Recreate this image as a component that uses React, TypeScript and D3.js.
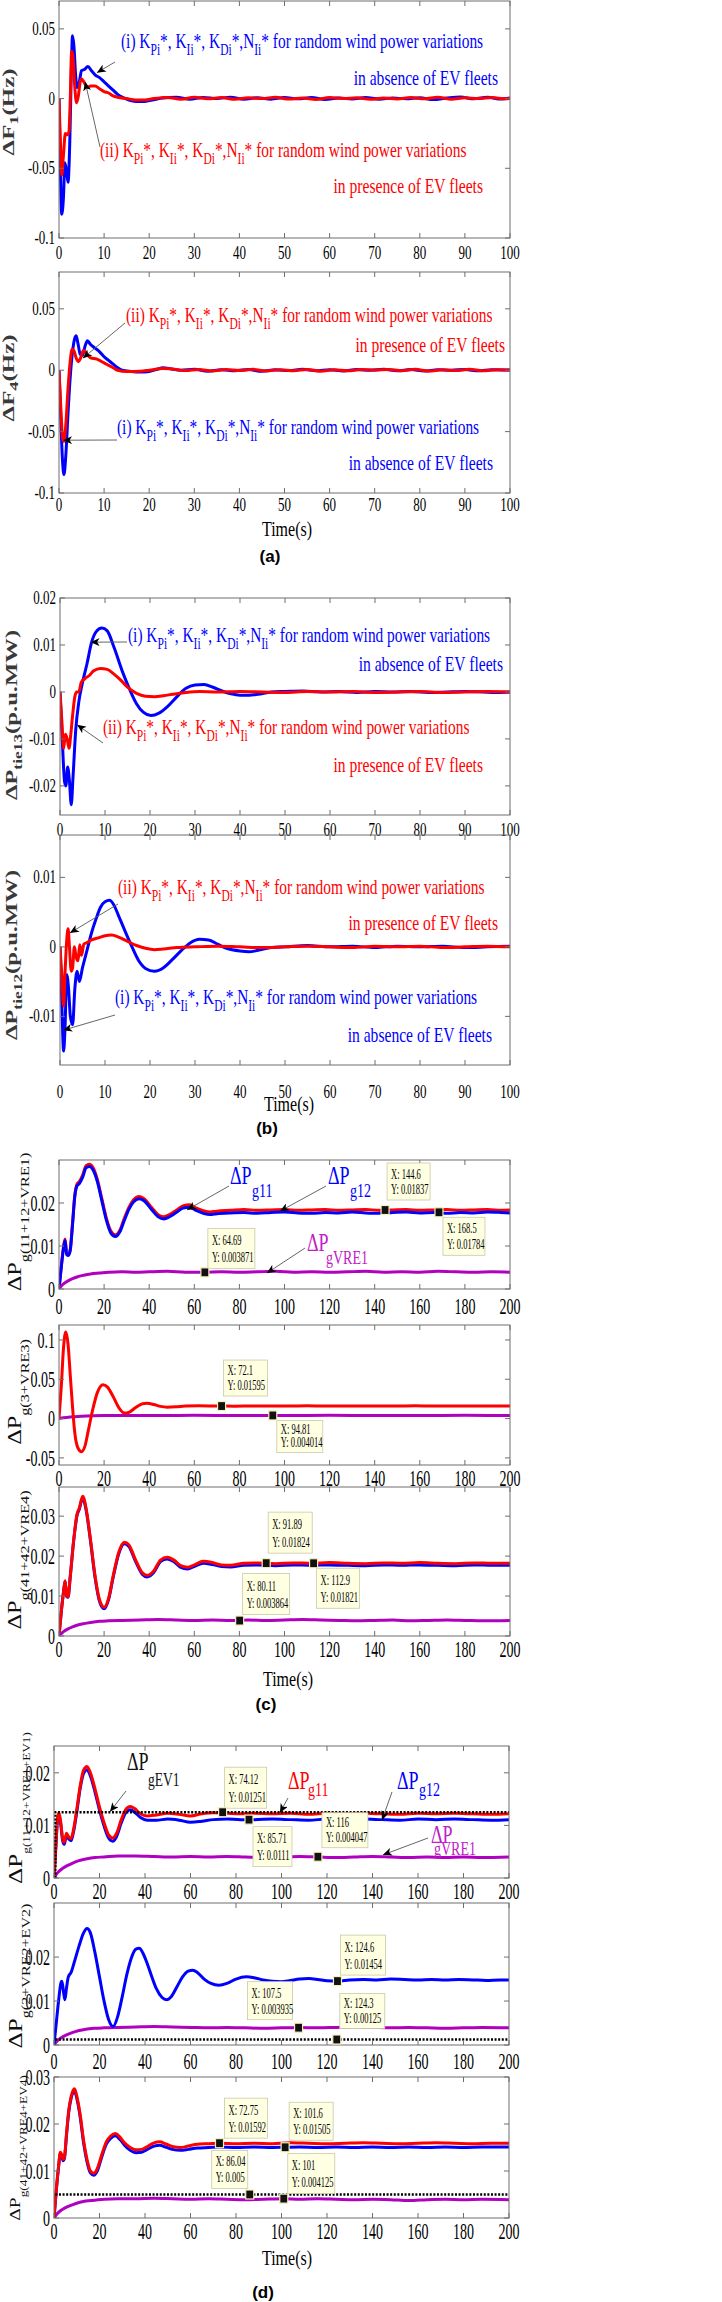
import React from 'react';
import * as d3 from 'd3';

type Pt = [number, number];

// ---------- tick values ----------
const ticksT100 = [0, 10, 20, 30, 40, 50, 60, 70, 80, 90, 100];
const ticksT200 = [0, 20, 40, 60, 80, 100, 120, 140, 160, 180, 200];
const ticksA = [-0.1, -0.05, 0, 0.05];
const ticksB1 = [-0.02, -0.01, 0, 0.01, 0.02];
const ticksB2 = [-0.01, 0, 0.01];
const ticksC1 = [0, 0.01, 0.02];
const ticksC2 = [-0.05, 0, 0.05, 0.1];
const ticksC3 = [0, 0.01, 0.02, 0.03];
const ticksD12 = [0, 0.01, 0.02];
const ticksD3 = [0, 0.01, 0.02, 0.03];

// ---------- (a) frequency deviations ----------
const a1Blue: Pt[] = [
  [0, 0], [0.3, -0.05], [0.6, -0.083], [1.0, -0.07], [1.3, -0.046], [1.7, -0.053], [2.0, -0.06], [2.4, -0.03],
  [2.7, 0.015], [3.0, 0.045], [3.3, 0.038], [3.7, 0.016], [4.0, 0.008], [4.5, 0.012], [5.0, 0.02], [5.7, 0.021],
  [6.4, 0.023], [7.2, 0.02], [8, 0.017], [9, 0.015], [10, 0.012], [11, 0.009], [12, 0.006], [13, 0.003], [14, 0.001],
  [15.5, -0.001], [17, -0.002], [19, -0.002], [21, -0.0008], [23, 0.0005], [26, 0.001], [29, -0.0005], [32, 0.0008],
  [35, 0], [38, 0.001], [41, -0.0005], [44, 0.0006], [47, -0.0004], [50, 0.0007], [53, -0.0002], [56, 0.0008],
  [59, -0.0006], [62, 0.0004], [65, -0.0003], [68, 0.0008], [71, -0.0004], [74, 0.0005], [77, -0.0002], [80, 0.0006],
  [83, -0.0007], [86, 0.0004], [89, 0.0011], [92, -0.0002], [95, 0.0009], [98, -0.0003], [100, 0.0004],
];
const a1Red: Pt[] = [
  [0, 0], [0.3, -0.03], [0.6, -0.055], [1.0, -0.04], [1.4, -0.025], [1.8, -0.026], [2.2, -0.024], [2.5, 0.0],
  [2.8, 0.034], [3.1, 0.03], [3.5, 0.008], [3.9, -0.003], [4.3, 0.002], [4.7, 0.012], [5.0, 0.014], [5.5, 0.012],
  [6.3, 0.008], [7, 0.009], [8, 0.009], [9, 0.007], [10, 0.005], [11, 0.004], [12, 0.002], [13, 0.001], [15, 0],
  [17, -0.001], [19, -0.001], [21, 0], [24, 0.0008], [27, -0.0004], [30, 0.0009], [33, -0.0002], [36, 0.0007],
  [39, -0.0005], [42, 0.0006], [45, 0], [48, 0.0009], [51, -0.0003], [54, 0.0005], [57, -0.0006], [60, 0.0007],
  [63, 0], [66, 0.0006], [69, -0.0005], [72, 0.0004], [75, -0.0003], [78, 0.0008], [81, -0.0002], [84, 0.001],
  [87, -0.0004], [90, 0.0006], [93, 0], [96, 0.0008], [99, -0.0002], [100, 0.0003],
];
const a2Blue: Pt[] = [
  [0, 0], [0.4, -0.04], [0.8, -0.075], [1.1, -0.085], [1.5, -0.07], [2.0, -0.035], [2.5, -0.005], [3.0, 0.015],
  [3.5, 0.026], [3.8, 0.028], [4.2, 0.022], [4.7, 0.013], [5.2, 0.012], [5.8, 0.02], [6.3, 0.024], [7, 0.021],
  [8, 0.018], [9, 0.015], [10, 0.011], [11, 0.008], [12, 0.005], [13, 0.002], [14, 0], [16, -0.001], [18, -0.0015],
  [20, -0.001], [22, 0.001], [23, 0.002], [25, 0.001], [27, 0], [30, 0.0008], [33, -0.0008], [36, 0.0004],
  [39, -0.0004], [42, 0.0006], [45, -0.0009], [48, 0.0003], [51, -0.0002], [54, 0.0007], [57, -0.0005],
  [60, 0.0004], [63, -0.0006], [66, 0.0005], [69, 0], [72, 0.0007], [75, -0.0004], [78, 0.0005], [81, -0.0007],
  [84, 0.0004], [87, 0], [90, 0.0006], [93, -0.0005], [96, 0.0004], [100, 0.0002],
];
const a2Red: Pt[] = [
  [0, 0], [0.4, -0.03], [0.8, -0.055], [1.1, -0.058], [1.5, -0.045], [2.0, -0.015], [2.5, 0.008], [2.9, 0.017],
  [3.3, 0.016], [3.8, 0.01], [4.3, 0.007], [4.8, 0.01], [5.4, 0.016], [6, 0.014], [7, 0.01], [8.4, 0.009],
  [10, 0.006], [11, 0.004], [12, 0.002], [13, 0], [15, -0.001], [18, -0.0008], [20, 0], [23, 0.0015], [25, 0.001],
  [28, -0.0003], [31, 0.0006], [34, -0.0007], [37, 0.0005], [40, -0.0003], [43, 0.0007], [46, -0.0006],
  [49, 0.0004], [52, -0.0004], [55, 0.0006], [58, -0.0008], [61, 0.0003], [64, -0.0005], [67, 0.0006], [70, 0],
  [73, 0.0006], [76, -0.0004], [79, 0.0007], [82, -0.0006], [85, 0.0003], [88, -0.0002], [91, 0.0007],
  [94, -0.0005], [97, 0.0004], [100, 0.0001],
];

// ---------- (b) tie-line power deviations ----------
const b1Blue: Pt[] = [
  [0, 0], [0.5, -0.01], [1.0, -0.019], [1.3, -0.02], [1.7, -0.016], [2.1, -0.019], [2.5, -0.024], [2.9, -0.018],
  [3.5, -0.008], [4.2, -0.002], [5, 0.002], [6, 0.006], [7, 0.0105], [8, 0.0128], [9.3, 0.0136], [10.5, 0.013],
  [12, 0.0095], [14, 0.004], [15.5, 0.0005], [17, -0.0025], [18.5, -0.0043], [20.2, -0.005], [22, -0.0045],
  [24, -0.003], [26, -0.001], [28, 0.0008], [30, 0.0015], [32, 0.0016], [34, 0.001], [36, 0.0002], [38, -0.0004],
  [40, -0.0007], [42, -0.0007], [44, -0.0005], [47, 0], [50, 0.0001], [54, 0.0002], [58, 0], [62, 0.0001],
  [66, -0.0001], [70, 0.0001], [74, 0], [78, 0.0001], [82, -0.0001], [86, 0], [90, 0.0001], [94, 0],
  [97, -0.0001], [100, 0],
];
const b1Red: Pt[] = [
  [0, 0], [0.4, -0.006], [0.8, -0.012], [1.2, -0.009], [1.6, -0.01], [2.0, -0.012], [2.4, -0.009], [2.8, -0.005],
  [3.3, -0.001], [3.7, 0], [4.2, 0], [4.7, 0.002], [5.5, 0.0028], [6.5, 0.0035], [7.5, 0.0045], [9, 0.005],
  [10.5, 0.0048], [12, 0.0038], [13.5, 0.0025], [15, 0.001], [17, -0.0003], [19, -0.0009], [21, -0.001],
  [23, -0.0008], [25, -0.0005], [28, -0.0001], [31, 0.0001], [35, 0], [40, 0.0001], [45, 0], [50, -0.0001],
  [55, 0.0001], [60, 0], [65, 0.0001], [70, -0.0001], [75, 0], [80, 0.0001], [85, -0.0001], [90, 0],
  [95, 0.0001], [100, 0],
];
const b2Blue: Pt[] = [
  [0, 0], [0.4, -0.008], [0.8, -0.015], [1.1, -0.012], [1.5, -0.004], [1.9, -0.006], [2.3, -0.01], [2.8, -0.0112],
  [3.3, -0.006], [3.8, -0.0035], [4.3, -0.005], [5, -0.003], [6, -0.0005], [7, 0.002], [8, 0.004], [9, 0.0057],
  [10, 0.0065], [11, 0.0067], [12, 0.006], [13, 0.0045], [14.5, 0.0022], [16, 0], [17.5, -0.002], [19, -0.0031],
  [21, -0.0035], [23, -0.003], [25, -0.0018], [27, -0.0005], [29, 0.0006], [31, 0.0011], [33, 0.001],
  [35, 0.0004], [37, -0.0002], [40, -0.0006], [42, -0.0007], [44, -0.0005], [47, -0.0001], [50, 0],
  [55, 0.0002], [60, 0], [65, 0.0001], [70, -0.0001], [75, 0.0001], [80, 0], [85, 0.0001], [90, -0.0001],
  [95, 0], [100, 0.0001],
];
const b2Red: Pt[] = [
  [0, 0], [0.4, -0.004], [0.8, -0.0085], [1.1, -0.004], [1.5, 0.001], [1.8, 0.0026], [2.1, 0.0], [2.5, -0.0035],
  [2.8, -0.003], [3.2, 0], [3.6, -0.0015], [4.0, -0.002], [4.4, 0.0003], [4.8, -0.0012], [5.3, 0.0004],
  [6, 0.0006], [7, 0.001], [8.5, 0.0013], [10, 0.0016], [11.5, 0.0017], [13, 0.0014], [15, 0.0008], [17, 0.0002],
  [19, -0.0002], [21, -0.0004], [23, -0.0003], [26, -0.0001], [30, 0], [35, 0.0001], [40, 0], [45, -0.0001],
  [50, 0], [55, 0.0001], [60, 0], [65, -0.0001], [70, 0.0001], [75, 0], [80, 0.0001], [85, -0.0001], [90, 0],
  [95, 0.0001], [100, 0],
];

// ---------- (c) generation deviations without EV ----------
const c1Blue: Pt[] = [
  [0, 0], [1, 0.005], [2, 0.0095], [2.7, 0.0113], [3.4, 0.008], [4.2, 0.0078], [5, 0.009], [6, 0.015], [7, 0.0215],
  [8, 0.024], [9, 0.0245], [10.5, 0.026], [12, 0.0282], [13.5, 0.0285], [15, 0.0278], [17, 0.025], [19, 0.0205],
  [21, 0.016], [23, 0.013], [25, 0.0122], [27, 0.0133], [29, 0.016], [31, 0.0185], [33, 0.0202], [35.5, 0.021],
  [38, 0.0204], [41, 0.0185], [44, 0.0168], [46.5, 0.0163], [49, 0.0168], [52, 0.0178], [55, 0.0188], [58, 0.019],
  [61, 0.0182], [64, 0.0176], [67, 0.0173], [70, 0.0175], [76, 0.0177], [82, 0.0178], [88, 0.0176], [94, 0.0178],
  [100, 0.0179], [106, 0.0177], [112, 0.0176], [118, 0.0178], [124, 0.0177], [130, 0.0179], [136, 0.0177],
  [142, 0.0176], [148, 0.0178], [154, 0.0179], [160, 0.0177], [166, 0.0178], [172, 0.0176], [178, 0.0178],
  [184, 0.0177], [190, 0.0179], [196, 0.0178], [200, 0.0177],
];
const c1Red: Pt[] = [
  [0, 0], [1, 0.0052], [2, 0.0098], [2.7, 0.0116], [3.4, 0.0083], [4.2, 0.008], [5, 0.0093], [6, 0.0153],
  [7, 0.0218], [8, 0.0244], [9, 0.025], [10.5, 0.0265], [12, 0.0287], [13.5, 0.029], [15, 0.0283], [17, 0.0255],
  [19, 0.021], [21, 0.0165], [23, 0.0135], [25, 0.0126], [27, 0.0137], [29, 0.0165], [31, 0.019], [33, 0.0207],
  [35.5, 0.0215], [38, 0.0209], [41, 0.019], [44, 0.0173], [46.5, 0.0168], [49, 0.0173], [52, 0.0183],
  [55, 0.0193], [58, 0.0196], [61, 0.0188], [64, 0.0182], [67, 0.0179], [70, 0.0181], [76, 0.0183], [82, 0.0185],
  [88, 0.0183], [94, 0.0184], [100, 0.0185], [106, 0.0183], [112, 0.0184], [118, 0.0185], [124, 0.0183],
  [130, 0.0184], [136, 0.0185], [142, 0.0183], [148, 0.0184], [154, 0.0185], [160, 0.0183], [166, 0.0184],
  [172, 0.0185], [178, 0.0183], [184, 0.0184], [190, 0.0185], [196, 0.0183], [200, 0.0184],
];
const c1Purple: Pt[] = [
  [0, 0], [1, 0.0007], [2, 0.0012], [4, 0.0019], [6, 0.0024], [8, 0.0028], [11, 0.0032], [14, 0.0035],
  [18, 0.0037], [22, 0.0039], [28, 0.004], [34, 0.0039], [40, 0.004], [48, 0.0041], [56, 0.0039], [64, 0.0039],
  [72, 0.004], [80, 0.0039], [88, 0.004], [96, 0.0041], [104, 0.0039], [112, 0.004], [120, 0.0039],
  [128, 0.004], [136, 0.0041], [144, 0.0039], [152, 0.004], [160, 0.0039], [168, 0.0041], [176, 0.004],
  [184, 0.0039], [192, 0.004], [200, 0.0039],
];
const c2Red: Pt[] = [
  [0, 0], [1, 0.04], [2, 0.09], [3, 0.11], [4, 0.095], [5, 0.055], [6, 0.015], [7, -0.018], [8.5, -0.038],
  [10, -0.042], [11.5, -0.035], [13, -0.015], [15, 0.012], [17, 0.033], [19.5, 0.043], [21.5, 0.04], [24, 0.028],
  [26.5, 0.014], [29, 0.007], [31, 0.008], [34, 0.014], [37, 0.019], [39, 0.0195], [42, 0.018], [45, 0.0155],
  [48, 0.0145], [52, 0.015], [56, 0.016], [62, 0.0162], [70, 0.016], [78, 0.0158], [86, 0.0161], [94, 0.0159],
  [102, 0.016], [110, 0.0162], [118, 0.0159], [126, 0.016], [134, 0.0161], [142, 0.0159], [150, 0.016],
  [158, 0.0162], [166, 0.0159], [174, 0.016], [182, 0.0161], [190, 0.0159], [200, 0.016],
];
const c2Purple: Pt[] = [
  [0, 0], [2, 0.001], [5, 0.002], [10, 0.003], [15, 0.0036], [20, 0.0039], [30, 0.004], [45, 0.004],
  [60, 0.0041], [80, 0.004], [100, 0.004], [120, 0.0041], [140, 0.004], [160, 0.004], [180, 0.0041], [200, 0.004],
];
const c3Red: Pt[] = [
  [0, 0], [1, 0.006], [2, 0.011], [2.7, 0.0138], [3.4, 0.01], [4, 0.0098], [5, 0.015], [6.5, 0.024], [8, 0.0305],
  [9, 0.032], [10.5, 0.035], [12, 0.032], [14, 0.024], [16, 0.015], [18, 0.009], [20, 0.0072], [22, 0.0095],
  [24, 0.015], [26.5, 0.021], [29, 0.0235], [31, 0.0228], [34, 0.019], [37, 0.0158], [39, 0.0152], [42, 0.0163],
  [45, 0.019], [48, 0.0197], [51, 0.019], [54, 0.0176], [57, 0.0172], [60, 0.0178], [64, 0.0187], [68, 0.0184],
  [72, 0.0178], [76, 0.0177], [82, 0.0182], [88, 0.0183], [96, 0.0181], [104, 0.0183], [112, 0.0182],
  [120, 0.0184], [128, 0.0182], [136, 0.0181], [144, 0.0183], [152, 0.0182], [160, 0.0184], [168, 0.0182],
  [176, 0.0181], [184, 0.0183], [192, 0.0182], [200, 0.0182],
];
const c3Blue: Pt[] = [
  [0, 0], [1, 0.006], [2, 0.011], [2.7, 0.0137], [3.4, 0.0099], [4, 0.0097], [5, 0.0149], [6.5, 0.0238],
  [8, 0.0302], [9, 0.0317], [10.5, 0.0346], [12, 0.0316], [14, 0.0236], [16, 0.0146], [18, 0.0086], [20, 0.0068],
  [22, 0.0091], [24, 0.0146], [26.5, 0.0206], [29, 0.0231], [31, 0.0224], [34, 0.0186], [37, 0.0154],
  [39, 0.0148], [42, 0.0159], [45, 0.0186], [48, 0.0193], [51, 0.0186], [54, 0.0172], [57, 0.0168], [60, 0.0174],
  [64, 0.0182], [68, 0.0179], [72, 0.0174], [76, 0.0173], [82, 0.0177], [88, 0.0178], [96, 0.0176],
  [104, 0.0178], [112, 0.0177], [120, 0.0178], [128, 0.0177], [136, 0.0176], [144, 0.0178], [152, 0.0177],
  [160, 0.0178], [168, 0.0177], [176, 0.0176], [184, 0.0178], [192, 0.0177], [200, 0.0177],
];
const c3Purple: Pt[] = [
  [0, 0], [1, 0.0006], [2, 0.0011], [4, 0.0018], [6, 0.0023], [8, 0.0027], [11, 0.0031], [14, 0.0034],
  [18, 0.0037], [22, 0.0038], [28, 0.0039], [36, 0.004], [44, 0.0041], [52, 0.004], [60, 0.0039], [68, 0.004],
  [76, 0.0039], [84, 0.004], [92, 0.0039], [100, 0.004], [108, 0.0041], [116, 0.004], [124, 0.0039],
  [132, 0.0038], [140, 0.0039], [148, 0.004], [156, 0.0038], [164, 0.0039], [172, 0.004], [180, 0.0039],
  [188, 0.0038], [200, 0.0039],
];

// ---------- (d) generation deviations with EV fleets ----------
const d1Red: Pt[] = [
  [0, 0], [0.8, 0.006], [1.6, 0.0115], [2.2, 0.0124], [3, 0.0105], [3.8, 0.0075], [4.5, 0.0068], [5.5, 0.0085],
  [6.5, 0.0078], [7.5, 0.0075], [8.5, 0.009], [10, 0.013], [11.5, 0.0175], [13, 0.0205], [14.5, 0.0212],
  [16, 0.02], [18, 0.017], [20, 0.0135], [22, 0.0105], [24, 0.0082], [25.8, 0.0076], [27.5, 0.0085],
  [29.5, 0.011], [31.5, 0.013], [33.5, 0.0136], [35.5, 0.0132], [38, 0.0122], [41, 0.0118], [45, 0.012],
  [50, 0.0123], [55, 0.0121], [60, 0.0118], [65, 0.0122], [70, 0.0124], [76, 0.0123], [82, 0.0122],
  [88, 0.0123], [96, 0.0122], [104, 0.0123], [112, 0.0121], [120, 0.0123], [128, 0.0122], [136, 0.0123],
  [144, 0.0122], [152, 0.0121], [160, 0.0123], [168, 0.0122], [176, 0.0123], [184, 0.0122], [192, 0.0121],
  [200, 0.0122],
];
const d1Blue: Pt[] = [
  [0, 0], [0.8, 0.0058], [1.6, 0.0112], [2.2, 0.012], [3, 0.0101], [3.8, 0.0071], [4.5, 0.0064], [5.5, 0.0081],
  [6.5, 0.0074], [7.5, 0.0071], [8.5, 0.0086], [10, 0.0125], [11.5, 0.017], [13, 0.0199], [14.5, 0.0206],
  [16, 0.0194], [18, 0.0164], [20, 0.0129], [22, 0.0099], [24, 0.0076], [25.8, 0.007], [27.5, 0.0079],
  [29.5, 0.0104], [31.5, 0.0124], [33.5, 0.013], [35.5, 0.0125], [38, 0.0115], [41, 0.011], [45, 0.011],
  [50, 0.0112], [55, 0.011], [60, 0.0106], [65, 0.0108], [70, 0.0111], [76, 0.0112], [82, 0.0111],
  [88, 0.0111], [96, 0.0112], [104, 0.0111], [112, 0.011], [120, 0.0112], [128, 0.0111], [136, 0.0112],
  [144, 0.0111], [152, 0.011], [160, 0.0112], [168, 0.0111], [176, 0.0112], [184, 0.0111], [192, 0.011],
  [200, 0.0111],
];
const d1Purple: Pt[] = [
  [0, 0], [1, 0.0007], [2, 0.0012], [4, 0.0019], [6, 0.0024], [8, 0.0028], [11, 0.0033], [14, 0.0036],
  [18, 0.0039], [22, 0.004], [28, 0.0042], [36, 0.0042], [44, 0.0041], [52, 0.004], [60, 0.0041], [68, 0.004],
  [76, 0.0041], [84, 0.004], [92, 0.0039], [100, 0.004], [108, 0.0041], [116, 0.004], [124, 0.0039],
  [132, 0.004], [140, 0.0041], [148, 0.004], [156, 0.0039], [164, 0.004], [172, 0.0039], [180, 0.004],
  [188, 0.0039], [200, 0.004],
];
const d1Ev: Pt[] = [[0.6, 0], [0.6, 0.01251], [200, 0.01251]];
const d2Blue: Pt[] = [
  [0, 0], [1, 0.005], [2, 0.01], [3, 0.014], [3.5, 0.0145], [4.2, 0.012], [4.8, 0.0103], [5.5, 0.013],
  [6.3, 0.0155], [7.5, 0.0165], [9, 0.019], [11, 0.0225], [13, 0.0255], [14.5, 0.0265], [16, 0.0255], [18, 0.021],
  [20, 0.0155], [22, 0.01], [24, 0.0058], [26, 0.0042], [28, 0.0065], [30, 0.011], [32, 0.016], [34, 0.0198],
  [36, 0.0218], [37.5, 0.022], [39, 0.021], [41, 0.0185], [43, 0.0155], [45, 0.0128], [47.5, 0.0108],
  [49.5, 0.0103], [51.5, 0.011], [54, 0.0132], [56.5, 0.0155], [59, 0.0168], [61, 0.017], [63, 0.0165],
  [66, 0.015], [69, 0.014], [72.5, 0.0136], [76, 0.014], [80, 0.015], [84.5, 0.0155], [88, 0.0153],
  [92, 0.0148], [96, 0.0145], [100, 0.0144], [104, 0.0147], [108, 0.015], [112, 0.0151], [116, 0.0149],
  [120, 0.0146], [124.6, 0.01454], [130, 0.0148], [136, 0.0149], [142, 0.0148], [148, 0.015], [154, 0.0149],
  [160, 0.0148], [166, 0.0149], [172, 0.0148], [178, 0.0149], [184, 0.0148], [190, 0.0147], [196, 0.0148],
  [200, 0.0148],
];
const d2Purple: Pt[] = [
  [0, 0], [1, 0.0007], [2, 0.0012], [4, 0.0019], [6, 0.0024], [8, 0.0028], [11, 0.0033], [14, 0.0036],
  [18, 0.0038], [22, 0.0039], [28, 0.004], [36, 0.0041], [44, 0.0042], [52, 0.0041], [60, 0.004], [68, 0.0039],
  [76, 0.004], [84, 0.0039], [92, 0.0038], [100, 0.0039], [108, 0.004], [116, 0.0039], [124, 0.004],
  [132, 0.0041], [140, 0.004], [148, 0.0039], [156, 0.004], [164, 0.0039], [172, 0.0038], [180, 0.0039],
  [188, 0.004], [200, 0.0039],
];
const d2Ev: Pt[] = [[0.6, 0.00125], [200, 0.00125]];
const d3Red: Pt[] = [
  [0, 0], [1, 0.006], [2, 0.011], [2.8, 0.014], [3.4, 0.0135], [4, 0.0125], [4.6, 0.013], [5.5, 0.018],
  [6.5, 0.023], [7.5, 0.0258], [9, 0.0275], [10, 0.026], [11.5, 0.022], [13, 0.0165], [14.5, 0.0125], [16, 0.01],
  [17.5, 0.0095], [19, 0.0105], [21, 0.0135], [23, 0.0162], [25, 0.0175], [27, 0.018], [29, 0.0172], [31, 0.016],
  [33.5, 0.015], [36, 0.0145], [38.5, 0.0146], [41, 0.0152], [44, 0.016], [46.5, 0.0162], [49, 0.0158],
  [52, 0.0152], [55.5, 0.015], [59, 0.0153], [63, 0.0157], [68, 0.0158], [72.75, 0.0159], [80, 0.0158],
  [88, 0.0159], [96, 0.0158], [104, 0.016], [112, 0.0159], [120, 0.0158], [128, 0.0159], [136, 0.016],
  [144, 0.0159], [152, 0.0158], [160, 0.0159], [168, 0.016], [176, 0.0159], [184, 0.0158], [192, 0.0159],
  [200, 0.0159],
];
const d3Blue: Pt[] = [
  [0, 0], [1, 0.0058], [2, 0.0108], [2.8, 0.0137], [3.4, 0.0132], [4, 0.0122], [4.6, 0.0127], [5.5, 0.0176],
  [6.5, 0.0226], [7.5, 0.0254], [9, 0.027], [10, 0.0255], [11.5, 0.0215], [13, 0.016], [14.5, 0.012],
  [16, 0.0096], [17.5, 0.0091], [19, 0.01], [21, 0.013], [23, 0.0157], [25, 0.017], [27, 0.0175], [29, 0.0167],
  [31, 0.0155], [33.5, 0.0144], [36, 0.0139], [38.5, 0.014], [41, 0.0146], [44, 0.0153], [46.5, 0.0155],
  [49, 0.0151], [52, 0.0146], [55.5, 0.0144], [59, 0.0146], [63, 0.0149], [68, 0.015], [72.75, 0.0151],
  [80, 0.015], [88, 0.0151], [96, 0.015], [101.6, 0.01505], [108, 0.0151], [116, 0.015], [124, 0.0151],
  [132, 0.015], [140, 0.0151], [148, 0.015], [156, 0.0151], [164, 0.015], [172, 0.0151], [180, 0.015],
  [188, 0.0151], [200, 0.0151],
];
const d3Purple: Pt[] = [
  [0, 0], [1, 0.0007], [2, 0.0012], [4, 0.0019], [6, 0.0024], [8, 0.0028], [11, 0.0033], [14, 0.0036],
  [18, 0.0038], [22, 0.004], [28, 0.0041], [36, 0.0041], [44, 0.0042], [52, 0.0041], [60, 0.004], [68, 0.0041],
  [76, 0.004], [84, 0.0039], [92, 0.004], [101, 0.0041], [108, 0.004], [116, 0.0041], [124, 0.004],
  [132, 0.0039], [140, 0.004], [148, 0.0039], [156, 0.0037], [164, 0.0039], [172, 0.004], [180, 0.0039],
  [188, 0.004], [200, 0.0039],
];
const d3Ev: Pt[] = [[0.6, 0.005], [200, 0.005]];

// data tips [x, y] as shown in the cursors
const c1Tips: Pt[] = [[144.6, 0.01837], [168.5, 0.01784], [64.69, 0.003871]];
const c2Tips: Pt[] = [[72.1, 0.01595], [94.81, 0.004014]];
const c3Tips: Pt[] = [[91.89, 0.01824], [112.9, 0.01821], [80.11, 0.003864]];
const d1Tips: Pt[] = [[74.12, 0.01251], [85.71, 0.0111], [116, 0.004047]];
const d2Tips: Pt[] = [[124.6, 0.01454], [107.5, 0.003935], [124.3, 0.00125]];
const d3Tips: Pt[] = [[72.75, 0.01592], [101.6, 0.01505], [86.04, 0.005], [101, 0.004125]];

const lineAbsent = ['(i)', 'in absence of EV fleets'];
const linePresent = ['(ii)', 'in presence of EV fleets'];

const BLUE = '#0000ff';
const RED = '#ff0000';
const PURPLE = '#b000c0';
const SERIF = 'Liberation Serif, Times New Roman, serif';

function St({ x, y, sy, size, anchor = 'start', fill = '#000', family = SERIF, weight = 'normal', children }: any) {
  return (
    <text transform={`translate(${x},${y}) scale(1,${sy})`} fontSize={size} textAnchor={anchor}
      fill={fill} fontFamily={family} fontWeight={weight}>{children}</text>
  );
}

// "(i) Kpi*, KIi*, KDi*,NIi* for random ..." two-line note
function KNote({ n }: any) {
  const sub = 11.5, dy = 5;
  return (
    <g>
      <St x={n.x1} y={n.y1} sy={1.4} size={15.4} fill={n.color}>
        {n.lines[0]} K<tspan fontSize={sub} dy={dy}>Pi</tspan><tspan dy={-dy}>*, K</tspan>
        <tspan fontSize={sub} dy={dy}>Ii</tspan><tspan dy={-dy}>*, K</tspan>
        <tspan fontSize={sub} dy={dy}>Di</tspan><tspan dy={-dy}>*,N</tspan>
        <tspan fontSize={sub} dy={dy}>Ii</tspan><tspan dy={-dy}>* for random wind power variations</tspan>
      </St>
      <St x={n.x2} y={n.y2} sy={1.4} size={15.6} fill={n.color} anchor="end">{n.lines[1]}</St>
    </g>
  );
}

function Panel({ p }: any) {
  const x = d3.scaleLinear().domain(p.xDomain).range([p.l, p.r]);
  const y = d3.scaleLinear().domain(p.yDomain).range([p.b, p.t]);
  const smooth = d3.line<Pt>().x(d => x(d[0])).y(d => y(d[1])).curve(d3.curveMonotoneX);
  const straight = d3.line<Pt>().x(d => x(d[0])).y(d => y(d[1]));
  const tk = 5;
  const axis = '#6e6e6e';
  const yl = p.ylabel;
  return (
    <g>
      <clipPath id={`clip-${p.id}`}>
        <rect x={p.l} y={p.t} width={p.r - p.l} height={p.b - p.t} />
      </clipPath>
      <g clipPath={`url(#clip-${p.id})`}>
        {p.series.map((s: any, i: number) => (
          <path key={i} d={(s.dotted ? straight : smooth)(s.data) || ''} fill="none" stroke={s.color}
            strokeWidth={s.dotted ? 2.4 : 3} strokeDasharray={s.dotted ? '2,1.6' : undefined}
            strokeLinejoin="round" />
        ))}
      </g>
      <rect x={p.l} y={p.t} width={p.r - p.l} height={p.b - p.t} fill="none" stroke={axis} strokeWidth={1} />
      {p.xTicks.map((t: number) => (
        <g key={`x${t}`}>
          <line x1={x(t)} x2={x(t)} y1={p.b} y2={p.b - tk} stroke={axis} />
          <line x1={x(t)} x2={x(t)} y1={p.t} y2={p.t + tk} stroke={axis} />
          <St x={x(t)} y={p.b + p.xlOff} sy={p.sy} size={p.fs} anchor="middle">{String(t)}</St>
        </g>
      ))}
      {p.yTicks.map((t: number) => (
        <g key={`y${t}`}>
          <line x1={p.l} x2={p.l + tk} y1={y(t)} y2={y(t)} stroke={axis} />
          <line x1={p.r} x2={p.r - tk} y1={y(t)} y2={y(t)} stroke={axis} />
          <St x={p.l - 4} y={y(t) + 0.33 * p.fs * p.sy} sy={p.sy} size={p.fs} anchor="end">{String(t)}</St>
        </g>
      ))}
      <text transform={`translate(${yl.x},${yl.y}) rotate(-90) scale(${yl.stretch},1)`} textAnchor="middle"
        fontFamily={SERIF} fontSize={yl.size} fontWeight={yl.weight} fill={yl.fill}>
        {yl.main}<tspan fontSize={yl.subSize} dy={yl.subDy}>{yl.sub}</tspan>
        <tspan dy={-yl.subDy}>{yl.rest}</tspan>
      </text>
      {(p.arrows || []).map((a: any, i: number) => (
        <line key={`a${i}`} x1={a.from[0]} y1={a.from[1]} x2={x(a.to[0])} y2={y(a.to[1])}
          stroke="#555" strokeWidth={0.9} markerEnd="url(#arrowHead)" />
      ))}
      {(p.notes || []).map((n: any, i: number) => <KNote key={`n${i}`} n={n} />)}
      {(p.deltas || []).map((dl: any, i: number) => (
        <g key={`d${i}`}>
          <St x={dl.main[0]} y={dl.main[1]} sy={1.35} size={18} fill={dl.color}>ΔP</St>
          <St x={dl.sub[0]} y={dl.sub[1]} sy={1.35} size={dl.subSize} fill={dl.color}>{dl.text}</St>
        </g>
      ))}
      {(p.tips || []).map((tp: Pt, i: number) => {
        const [ox, oy, w, h] = p.tipBoxes[i];
        const mx = x(tp[0]), my = y(tp[1]);
        const bx = mx + ox, by = my + oy;
        return (
          <g key={`t${i}`}>
            <rect x={bx} y={by} width={w} height={h} fill="#ffffe1" stroke="#c9c9a8" strokeWidth={0.8} />
            <St x={bx + 4} y={by + h * 0.42} sy={1.6} size={8.5}>{`X: ${tp[0]}`}</St>
            <St x={bx + 4} y={by + h * 0.84} sy={1.6} size={8.5}>{`Y: ${tp[1]}`}</St>
            <rect x={mx - 4} y={my - 4.5} width={8} height={9} fill="#111" stroke="#f3f0b8" strokeWidth={1.2} />
          </g>
        );
      })}
    </g>
  );
}

const abY = { sy: 1.4, fs: 13 };
const cdY = { sy: 1.7, fs: 14 };

const panels = [
  {
    id: 'a1', l: 59, r: 510, t: 1, b: 238, xDomain: [0, 100], yDomain: [-0.1, 0.07], xTicks: ticksT100,
    yTicks: ticksA, xlOff: 21, ...abY,
    series: [{ data: a1Blue, color: BLUE }, { data: a1Red, color: RED }],
    ylabel: { main: 'ΔF', sub: '1', rest: '(Hz)', x: 14, y: 112, size: 16, subSize: 12, subDy: 4, stretch: 1.55, weight: 'bold', fill: '#3a3a3a' },
    arrows: [{ from: [115, 62], to: [8.4, 0.0186] }, { from: [100, 147], to: [5.8, 0.012] }],
    notes: [
      { lines: lineAbsent, color: BLUE, x1: 121, y1: 48, x2: 498, y2: 85 },
      { lines: linePresent, color: RED, x1: 100, y1: 157, x2: 483, y2: 193 },
    ],
  },
  {
    id: 'a2', l: 59, r: 510, t: 272, b: 493, xDomain: [0, 100], yDomain: [-0.1, 0.08], xTicks: ticksT100,
    yTicks: ticksA, xlOff: 18, ...abY,
    series: [{ data: a2Blue, color: BLUE }, { data: a2Red, color: RED }],
    ylabel: { main: 'ΔF', sub: '4', rest: '(Hz)', x: 14, y: 378, size: 16, subSize: 12, subDy: 4, stretch: 1.55, weight: 'bold', fill: '#3a3a3a' },
    arrows: [{ from: [125, 323], to: [5.3, 0.0098] }, { from: [117, 440], to: [0.9, -0.057] }],
    notes: [
      { lines: linePresent, color: RED, x1: 126, y1: 322, x2: 505, y2: 352 },
      { lines: lineAbsent, color: BLUE, x1: 117, y1: 434, x2: 493, y2: 470 },
    ],
  },
  {
    id: 'b1', l: 60, r: 510, t: 598, b: 815, xDomain: [0, 100], yDomain: [-0.0262, 0.02], xTicks: ticksT100,
    yTicks: ticksB1, xlOff: 21, ...abY,
    series: [{ data: b1Blue, color: BLUE }, { data: b1Red, color: RED }],
    ylabel: { main: 'ΔP', sub: 'tie13', rest: '(p.u.MW)', x: 17, y: 715, size: 17, subSize: 12, subDy: 5, stretch: 1.45, weight: 'bold', fill: '#3a3a3a' },
    arrows: [{ from: [127, 642], to: [6.8, 0.0106] }, { from: [103, 743], to: [3.8, -0.007] }],
    notes: [
      { lines: lineAbsent, color: BLUE, x1: 128, y1: 642, x2: 503, y2: 671 },
      { lines: linePresent, color: RED, x1: 103, y1: 734, x2: 483, y2: 772 },
    ],
  },
  {
    id: 'b2', l: 60, r: 510, t: 835, b: 1065, xDomain: [0, 100], yDomain: [-0.017, 0.0161], xTicks: ticksT100,
    yTicks: ticksB2, xlOff: 33, ...abY,
    series: [{ data: b2Blue, color: BLUE }, { data: b2Red, color: RED }],
    ylabel: { main: 'ΔP', sub: 'tie12', rest: '(p.u.MW)', x: 17, y: 955, size: 17, subSize: 12, subDy: 5, stretch: 1.45, weight: 'bold', fill: '#3a3a3a' },
    arrows: [{ from: [118, 904], to: [2.2, 0.002] }, { from: [115, 1015], to: [0.7, -0.012] }],
    notes: [
      { lines: linePresent, color: RED, x1: 118, y1: 894, x2: 498, y2: 930 },
      { lines: lineAbsent, color: BLUE, x1: 115, y1: 1004, x2: 492, y2: 1042 },
    ],
  },
  {
    id: 'c1', l: 59, r: 510, t: 1160, b: 1289, xDomain: [0, 200], yDomain: [0, 0.03], xTicks: ticksT200,
    yTicks: ticksC1, xlOff: 25, ...cdY,
    series: [{ data: c1Red, color: RED }, { data: c1Blue, color: BLUE }, { data: c1Purple, color: PURPLE }],
    ylabel: { main: 'ΔP', sub: 'g(11+12+VRE1)', rest: '', x: 21, y: 1222, size: 18, subSize: 12, subDy: 8, stretch: 1.35, weight: 'normal', fill: '#111' },
    arrows: [
      { from: [229, 1186], to: [56.8, 0.0184] }, { from: [326, 1186], to: [98, 0.0181] },
      { from: [305, 1248], to: [92.2, 0.0037] },
    ],
    deltas: [
      { main: [230, 1184], sub: [252, 1197], text: 'g11', color: BLUE, subSize: 14 },
      { main: [328, 1184], sub: [350, 1197], text: 'g12', color: BLUE, subSize: 14 },
      { main: [307, 1251], sub: [326, 1264], text: 'gVRE1', color: '#c020c8', subSize: 14 },
    ],
    tips: c1Tips, tipBoxes: [[2, -47, 43, 37], [4, 5, 42, 38], [3, -44, 47, 40]],
  },
  {
    id: 'c2', l: 59, r: 510, t: 1325, b: 1465, xDomain: [0, 200], yDomain: [-0.059, 0.119], xTicks: ticksT200,
    yTicks: ticksC2, xlOff: 21, ...cdY,
    series: [{ data: c2Purple, color: PURPLE }, { data: c2Red, color: RED }],
    ylabel: { main: 'ΔP', sub: 'g(3+VRE3)', rest: '', x: 21, y: 1392, size: 18, subSize: 12, subDy: 8, stretch: 1.35, weight: 'normal', fill: '#111' },
    tips: c2Tips, tipBoxes: [[2, -46, 44, 36], [4, 5, 46, 32]],
  },
  {
    id: 'c3', l: 59, r: 510, t: 1487, b: 1636, xDomain: [0, 200], yDomain: [0, 0.0373], xTicks: ticksT200,
    yTicks: ticksC3, xlOff: 21, ...cdY,
    series: [{ data: c3Blue, color: BLUE }, { data: c3Red, color: RED }, { data: c3Purple, color: PURPLE }],
    ylabel: { main: 'ΔP', sub: 'g(41+42+VRE4)', rest: '', x: 21, y: 1560, size: 18, subSize: 12, subDy: 8, stretch: 1.35, weight: 'normal', fill: '#111' },
    tips: c3Tips, tipBoxes: [[2, -51, 44, 41], [3, 5, 43, 40], [3, -47, 47, 41]],
  },
  {
    id: 'd1', l: 54, r: 509, t: 1746, b: 1878, xDomain: [0, 200], yDomain: [0, 0.0251], xTicks: ticksT200,
    yTicks: ticksD12, xlOff: 21, ...cdY,
    series: [
      { data: d1Purple, color: PURPLE }, { data: d1Blue, color: BLUE }, { data: d1Red, color: RED },
      { data: d1Ev, color: '#000', dotted: true },
    ],
    ylabel: { main: 'ΔP', sub: 'g(11+12+VRE1+EV1)', rest: '', x: 22, y: 1808, size: 18, subSize: 9.5, subDy: 8, stretch: 1.4, weight: 'normal', fill: '#111' },
    arrows: [
      { from: [126, 1791], to: [24.6, 0.0126] }, { from: [288, 1798], to: [99.3, 0.0124] },
      { from: [392, 1792], to: [144.2, 0.011] }, { from: [428, 1838], to: [144.6, 0.0044] },
    ],
    deltas: [
      { main: [127, 1770], sub: [148, 1786], text: 'gEV1', color: '#111', subSize: 13.5 },
      { main: [288, 1789], sub: [308, 1796], text: 'g11', color: RED, subSize: 14 },
      { main: [397, 1789], sub: [419, 1796], text: 'g12', color: BLUE, subSize: 14 },
      { main: [431, 1843], sub: [434, 1855], text: 'gVRE1', color: '#c020c8', subSize: 14 },
    ],
    tips: d1Tips, tipBoxes: [[2, -45, 42, 41], [4, 7, 39, 40], [4, -44, 46, 35]],
  },
  {
    id: 'd2', l: 54, r: 509, t: 1903, b: 2045, xDomain: [0, 200], yDomain: [0, 0.0323], xTicks: ticksT200,
    yTicks: ticksD12, xlOff: 24, ...cdY,
    series: [{ data: d2Purple, color: PURPLE }, { data: d2Blue, color: BLUE }, { data: d2Ev, color: '#000', dotted: true }],
    ylabel: { main: 'ΔP', sub: 'g(2+VRE2+EV2)', rest: '', x: 22, y: 1976, size: 18, subSize: 11.5, subDy: 8, stretch: 1.4, weight: 'normal', fill: '#111' },
    tips: d2Tips, tipBoxes: [[3, -46, 45, 40], [-51, -46, 45, 38], [3, -46, 45, 35]],
  },
  {
    id: 'd3', l: 54, r: 509, t: 2077, b: 2218, xDomain: [0, 200], yDomain: [0, 0.03], xTicks: ticksT200,
    yTicks: ticksD3, xlOff: 21, ...cdY,
    series: [
      { data: d3Purple, color: PURPLE }, { data: d3Blue, color: BLUE }, { data: d3Red, color: RED },
      { data: d3Ev, color: '#000', dotted: true },
    ],
    ylabel: { main: 'ΔP', sub: 'g(41+42+VRE4+EV4)', rest: '', x: 20, y: 2148, size: 14, subSize: 9.5, subDy: 7, stretch: 1.4, weight: 'normal', fill: '#111' },
    tips: d3Tips, tipBoxes: [[5, -45, 43, 40], [4, -45, 44, 38], [-38, -44, 36, 38], [4, -45, 47, 40]],
  },
];

const timeLabels = [[287, 536], [289, 1111], [288, 1686], [287, 2265]];
const groupLabels = [['(a)', 270, 562], ['(b)', 267, 1134], ['(c)', 266, 1710], ['(d)', 263, 2298]];

export default function App() {
  return (
    <div style={{ position: 'absolute', left: 0, top: 0 }}>
      <svg width={722} height={2302} style={{ display: 'block', background: '#fff' }}>
        <defs>
          <marker id="arrowHead" markerUnits="userSpaceOnUse" markerWidth={10} markerHeight={8} refX={9} refY={4}
            orient="auto">
            <path d="M0,0 L9,4 L0,8 L2.5,4 Z" fill="#000" />
          </marker>
        </defs>
        <rect width={722} height={2302} fill="#fff" />
        {panels.map(p => <Panel key={p.id} p={p} />)}
        {timeLabels.map(([cx, by], i) => (
          <St key={`tl${i}`} x={cx} y={by} sy={1.3} size={16} anchor="middle">Time(s)</St>
        ))}
        {groupLabels.map(([t, cx, by]) => (
          <text key={t as string} x={cx as number} y={by as number} textAnchor="middle" fontSize={17}
            fontWeight="bold" fontFamily="Liberation Sans, Arial, sans-serif">{t}</text>
        ))}
      </svg>
    </div>
  );
}
